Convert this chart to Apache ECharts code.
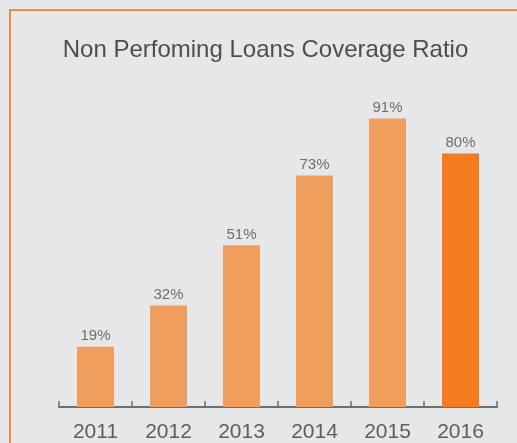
<!DOCTYPE html>
<html>
<head>
<meta charset="utf-8">
<script src="https://cdn.jsdelivr.net/npm/echarts@6/dist/echarts.min.js"></script>
<style>
html,body{margin:0;padding:0;background:#e6e7e8;}
#chart{width:517px;height:443px;}
</style>
</head>
<body>
<div id="chart"></div>
<script>
const categories = ['2011', '2012', '2013', '2014', '2015', '2016'];
const values = [19, 32, 51, 73, 91, 80];
const titleText = 'Non Perfoming Loans Coverage Ratio';

const lightOrange = '#f09e5e';
const darkOrange = '#f47b20';

const chart = echarts.init(document.getElementById('chart'));
chart.setOption({
  backgroundColor: '#e6e7e8',
  animation: false,
  textStyle: { fontFamily: 'Liberation Sans, Arial, sans-serif' },
  title: {
    text: titleText,
    left: 260.5,
    textAlign: 'center',
    top: 33,
    textStyle: { fontSize: 24, fontWeight: 'normal', color: '#4d4d4f', fontFamily: 'Liberation Sans, Arial, sans-serif' }
  },
  graphic: [{
    type: 'rect',
    shape: { x: 10, y: 10, width: 600, height: 600 },
    style: { fill: 'none', stroke: '#f5883a', lineWidth: 2 },
    silent: true
  }],
  grid: { left: 59, right: 20, top: 90, bottom: 35 },
  xAxis: {
    type: 'category',
    data: categories,
    axisLine: { show: true, lineStyle: { color: '#6d6e70', width: 2 } },
    axisTick: { show: true, inside: true, length: 6, interval: 0, lineStyle: { color: '#6d6e70', width: 1.5 } },
    axisLabel: { fontSize: 21, color: '#5d5e60', margin: 15, fontFamily: 'Liberation Sans, Arial, sans-serif' }
  },
  yAxis: {
    type: 'value',
    min: 0,
    max: 100,
    show: false,
    splitLine: { show: false }
  },
  series: [{
    type: 'bar',
    data: values.map((v, i) => ({
      value: v,
      itemStyle: { color: i === values.length - 1 ? darkOrange : lightOrange }
    })),
    barWidth: 37,
    label: {
      show: true,
      position: 'top',
      distance: 3,
      formatter: '{c}%',
      fontSize: 15,
      color: '#6d6e70',
      fontFamily: 'Liberation Sans, Arial, sans-serif'
    }
  }]
});
</script>
</body>
</html>
